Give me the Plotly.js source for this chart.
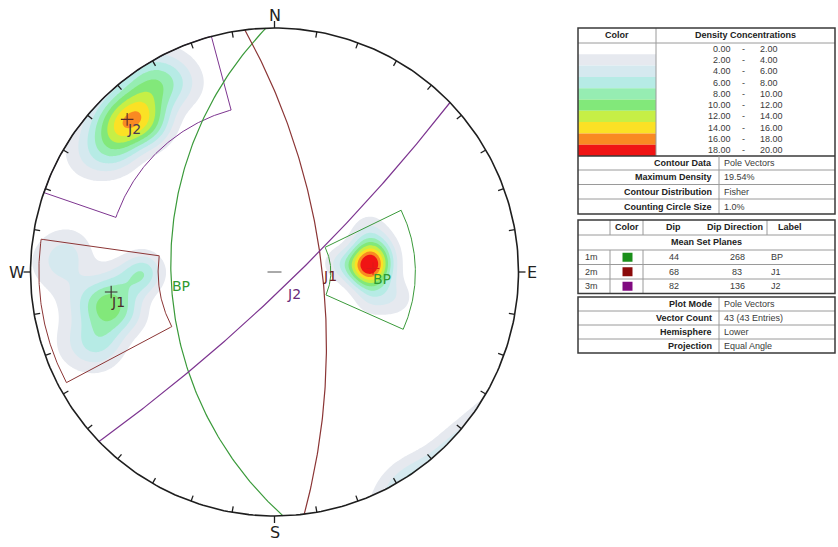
<!DOCTYPE html>
<html><head><meta charset="utf-8">
<script src="https://cdn.plot.ly/plotly-3.0.1.min.js"></script>
<style>html,body{margin:0;padding:0;background:#fff}</style>
</head><body><div id="chart" style="width:838px;height:547px"></div>
<script>
// ---------------- data ----------------
// pole vectors (trend / plunge, degrees), read from the contour clusters
const poleTrends = [
  85,85,85,88,82,87,95,75,85,93,78,66,102,82,106,
  316,315,317,319,310,322,320,311,302,330,328,324,306,334,
  258,257,260,266,250,262,253,270,271,266,276,272,246,250
];
const polePlunges = [
  47,50,45,47,47,45,45,48,55,51,42,44,36,61,45,
  8,7,8,13,10,10,14,6,6,5,4,4,12,9,
  20,22,19,24,17,13,27,35,33,31,10,6,14,9
];
// mean set planes
const setIds = ['1m','2m','3m'];
const setNames = ['BP','J1','J2'];
const setDips = [44,68,82];
const setDipDirs = [268,83,136];
// set windows (trend range, plunge range)
const winTrendMin = [64,242,289];
const winTrendMax = [114,278,345];
const winPlungeMin = [30,2,0];
const winPlungeMax = [64,39,21];
// density legend
const densityLow = [0,2,4,6,8,10,12,14,16,18];
const densityHigh = [2,4,6,8,10,12,14,16,18,20];
const info1Labels = ['Contour Data','Maximum Density','Contour Distribution','Counting Circle Size'];
const info1Values = ['Pole Vectors','19.54%','Fisher','1.0%'];
const info2Labels = ['Plot Mode','Vector Count','Hemisphere','Projection'];
const info2Values = ['Pole Vectors','43 (43 Entries)','Lower','Equal Angle'];
const cardinalLabels = ['N','E','S','W'];

// ---------------- style ----------------
const bandColors = ['#ffffff','#e6e9ef','#d5e9ef','#b6ebe5','#96edb2','#82e87a','#c6ef46','#fbe125','#f98a22','#f01414'];
const setLineColors = ['#3a9a3a','#8b3535','#7d3590'];
const setTextColors = ['#2f9a2f','#4a2a2a','#4a3a50'];
const gcTextColors = ['#2f9a2f','#6e2222','#6a2a7a'];
const plusColors = ['#e01818','#3a2a2a','#5a2a2a'];
const setSwatch = ['#1a8f1a','#8b0a0a','#800a80'];
const CX = 274.5, CY = 272, RP = 244, W = 838, H = 547;

const D2R = Math.PI/180;
function stereo(t,p){const r=Math.tan((90-p)/2*D2R);return [r*Math.sin(t*D2R), r*Math.cos(t*D2R)];}
function vec(t,p){return [Math.cos(p*D2R)*Math.sin(t*D2R), Math.cos(p*D2R)*Math.cos(t*D2R), Math.sin(p*D2R)];}

// ---------------- density (Fisher, axial) ----------------
const poles = poleTrends.map((t,i)=>vec(t,polePlunges[i]));
const N = poles.length, kappa = 120;
const norm = kappa/N/(1-Math.exp(-2*kappa));
const gx=[], gy=[];
const step = 0.008;
for (let v=-1.04; v<=1.0401; v+=step){ gx.push(+v.toFixed(4)); gy.push(+v.toFixed(4)); }
const zz = gy.map(Y => gx.map(X => {
  const rr = X*X+Y*Y, d = 1+rr;
  const e = 2*X/d, n = 2*Y/d, z = (1-rr)/d;
  let s = 0;
  for (const p of poles){ const c = e*p[0]+n*p[1]+z*p[2]; s += Math.exp(kappa*(c-1)) + Math.exp(kappa*(-c-1)); }
  return norm*s;
}));

const traces = [];
traces.push({type:'contour', x:gx, y:gy, z:zz, autocontour:false,
  contours:{start:2,end:18,size:2,coloring:'fill',showlines:false},
  line:{width:0, smoothing:1}, colorscale: bandColors.map((c,k)=>[k/9,c]),
  showscale:false, hoverinfo:'skip'});

// mask outside primitive
(function(){
  const B=1.1, a0=45; const xs=[], ys=[];
  xs.push(Math.cos(a0*D2R)); ys.push(Math.sin(a0*D2R));
  xs.push(B,-B,-B,B,B); ys.push(B,B,-B,-B,B);
  for (let a=a0; a>=a0-360; a-=1){ xs.push(Math.cos(a*D2R)); ys.push(Math.sin(a*D2R)); }
  traces.push({type:'scatter',mode:'lines',x:xs,y:ys,fill:'toself',fillcolor:'#ffffff',line:{width:0,color:'rgba(0,0,0,0)'},hoverinfo:'skip'});
})();

// set windows
for (let k=0;k<3;k++){
  const xs=[], ys=[]; const t1=winTrendMin[k], t2=winTrendMax[k], p1=winPlungeMin[k], p2=winPlungeMax[k];
  for (let t=t1;t<=t2;t+=0.5){const q=stereo(t,p1);xs.push(q[0]);ys.push(q[1]);}
  for (let p=p1;p<=p2;p+=0.5){const q=stereo(t2,p);xs.push(q[0]);ys.push(q[1]);}
  for (let t=t2;t>=t1;t-=0.5){const q=stereo(t,p2);xs.push(q[0]);ys.push(q[1]);}
  for (let p=p2;p>=p1;p-=0.5){const q=stereo(t1,p);xs.push(q[0]);ys.push(q[1]);}
  traces.push({type:'scatter',mode:'lines',x:xs,y:ys,line:{color:setLineColors[k],width:1},hoverinfo:'skip'});
}
// great circles
for (let k=0;k<3;k++){
  const dd=setDipDirs[k], dip=setDips[k]; const xs=[], ys=[];
  const sv=[Math.sin((dd-90)*D2R),Math.cos((dd-90)*D2R),0];
  const dv=vec(dd,dip);
  for (let a=0;a<=180;a+=1){const c=Math.cos(a*D2R), s=Math.sin(a*D2R);
    const e=c*sv[0]+s*dv[0], n=c*sv[1]+s*dv[1], z=c*sv[2]+s*dv[2];
    xs.push(e/(1+z)); ys.push(n/(1+z));}
  traces.push({type:'scatter',mode:'lines',x:xs,y:ys,line:{color:setLineColors[k],width:1.2},hoverinfo:'skip'});
}
// primitive
(function(){const xs=[],ys=[];for(let a=0;a<=360;a+=1){xs.push(Math.cos(a*D2R));ys.push(Math.sin(a*D2R));}
  traces.push({type:'scatter',mode:'lines',x:xs,y:ys,line:{color:'#1e1e1e',width:1.6},hoverinfo:'skip'});})();
// ticks
(function(){const xs=[],ys=[]; const tin=6/RP, tout=7/RP;
  for(let az=0;az<360;az+=10){const card=(az%90===0); const r2=card?1+tout:1-tin;
    const sx=Math.sin(az*D2R), sy=Math.cos(az*D2R);
    xs.push(sx, sx*r2, null); ys.push(sy, sy*r2, null);}
  traces.push({type:'scatter',mode:'lines',x:xs,y:ys,line:{color:'#1e1e1e',width:1.3},hoverinfo:'skip'});})();
// centre mark
traces.push({type:'scatter',mode:'lines',x:[-7/RP,7/RP],y:[0,0],line:{color:'#555',width:1},hoverinfo:'skip'});
// mean poles
const poleXY = setDipDirs.map((dd,k)=>stereo((dd+180)%360, 90-setDips[k]));
traces.push({type:'scatter',mode:'markers',x:poleXY.map(p=>p[0]),y:poleXY.map(p=>p[1]),
  marker:{symbol:'cross-thin',size:9,line:{width:1.1,color:plusColors}},hoverinfo:'skip'});

const annotations = [];
// cardinal labels
const cardOff = [[0,1.053],[1.055,-0.004],[0,-1.066],[-1.057,-0.004]];
cardinalLabels.forEach((t,i)=>annotations.push({x:cardOff[i][0],y:cardOff[i][1],text:t,showarrow:false,
  xanchor:'center',yanchor:'middle',font:{family:'DejaVu Sans',size:16,color:'#222'}}));
// pole labels and great-circle labels
for (let k=0;k<3;k++){
  annotations.push({x:poleXY[k][0],y:poleXY[k][1],text:setNames[k],showarrow:false,xanchor:'left',yanchor:'top',
    xshift:-2,yshift:0,font:{family:'DejaVu Sans',size:14,color:setTextColors[k]}});
  const g=stereo(setDipDirs[k],setDips[k]);
  annotations.push({x:g[0],y:g[1],text:setNames[k],showarrow:false,xanchor:'left',yanchor:'top',
    xshift:-1,yshift:0,font:{family:'DejaVu Sans',size:14,color:gcTextColors[k]}});
}

// ---------------- tables (paper coords) ----------------
const shapes = [];
const px = v=>v/W, py = v=>1-v/H;
function hline(x0,x1,y,c,w){shapes.push({type:'line',xref:'paper',yref:'paper',x0:px(x0),x1:px(x1),y0:py(y),y1:py(y),line:{color:c,width:w}});}
function vline(x,y0,y1,c,w){shapes.push({type:'line',xref:'paper',yref:'paper',x0:px(x),x1:px(x),y0:py(y0),y1:py(y1),line:{color:c,width:w}});}
function rect(x0,y0,x1,y1,fill,lc,lw){shapes.push({type:'rect',xref:'paper',yref:'paper',x0:px(x0),x1:px(x1),y0:py(y0),y1:py(y1),fillcolor:fill,line:{color:lc,width:lw}});}
function txt(x,y,t,anchor,bold,color){annotations.push({xref:'paper',yref:'paper',x:px(x),y:py(y),text:bold?'<b>'+t+'</b>':t,showarrow:false,
  xanchor:anchor,yanchor:'middle',borderpad:0,font:{family:'Liberation Sans, Arial',size:9,color:color||(bold?'#222':'#3a3a3a')}});}
const TL=578, TR=835, GRID='#9a9a9a', BORDER='#3a3a3a';
// table 1
const t1Top=28, hdrB=43, bandH=11.3, bandsB=hdrB+10*bandH;
for (let k=0;k<10;k++){ rect(TL,hdrB+k*bandH,656,hdrB+(k+1)*bandH,bandColors[k],'rgba(0,0,0,0)',0); }
hline(TL,TR,hdrB,GRID,1);
vline(656,t1Top,bandsB,GRID,1);
txt(617,35.5,'Color','center',true); txt(745,35.5,'Density Concentrations','center',true);
densityLow.forEach((v,k)=>{const y=hdrB+(k+0.5)*bandH;
  txt(732,y,v.toFixed(2),'right',false); txt(743.5,y,'-','center',false); txt(759,y,densityHigh[k].toFixed(2),'left',false);});
const r1=[bandsB,170,184.5,199,214];
hline(TL,TR,bandsB,BORDER,1.3);
for (let k=1;k<4;k++) hline(TL,TR,r1[k],GRID,1);
vline(719,bandsB,214,GRID,1);
info1Labels.forEach((l,k)=>{const y=(r1[k]+r1[k+1])/2; txt(713,y,l,'right',true); txt(723,y,info1Values[k],'left',false);});
rect(TL,t1Top,TR,214,'rgba(0,0,0,0)',BORDER,1.5);
// table 2
const t2=[220,235,250,264.5,279,293.5];
for (let k=1;k<5;k++) hline(TL,TR,t2[k],GRID,1);
vline(610,t2[0],t2[1],GRID,1); vline(643,t2[0],t2[1],GRID,1); vline(767,t2[0],t2[1],GRID,1);
vline(610,t2[2],t2[5],GRID,1); vline(643,t2[2],t2[5],GRID,1);
txt(626.5,227.5,'Color','center',true); txt(673,227.5,'Dip','center',true); txt(735,227.5,'Dip Direction','center',true); txt(790,227.5,'Label','center',true);
txt(706,242.5,'Mean Set Planes','center',true);
for (let k=0;k<3;k++){const y=(t2[k+2]+t2[k+3])/2;
  txt(591,y,setIds[k],'center',false);
  rect(622.5,y-4.5,632.5,y+4.5,setSwatch[k],'rgba(0,0,0,0)',0);
  txt(674,y,String(setDips[k]),'center',false); txt(737,y,String(setDipDirs[k]),'center',false); txt(770,y,setNames[k],'left',false);}
rect(TL,t2[0],TR,t2[5],'rgba(0,0,0,0)',BORDER,1.5);
// table 3
const t3=[297,311,325,339,353];
for (let k=1;k<4;k++) hline(TL,TR,t3[k],GRID,1);
vline(719,t3[0],t3[4],GRID,1);
info2Labels.forEach((l,k)=>{const y=(t3[k]+t3[k+1])/2; txt(713,y,l,'right',true); txt(723,y,info2Values[k],'left',false);});
rect(TL,t3[0],TR,t3[4],'rgba(0,0,0,0)',BORDER,1.5);

const layout = {width:W,height:H,margin:{l:0,r:0,t:0,b:0},paper_bgcolor:'#fff',plot_bgcolor:'#fff',showlegend:false,
  xaxis:{range:[-CX/RP,(W-CX)/RP],visible:false,fixedrange:true},
  yaxis:{range:[-(H-CY)/RP,CY/RP],visible:false,fixedrange:true},
  shapes:shapes, annotations:annotations};
Plotly.newPlot('chart',traces,layout,{staticPlot:true,displayModeBar:false});
</script></body></html>
